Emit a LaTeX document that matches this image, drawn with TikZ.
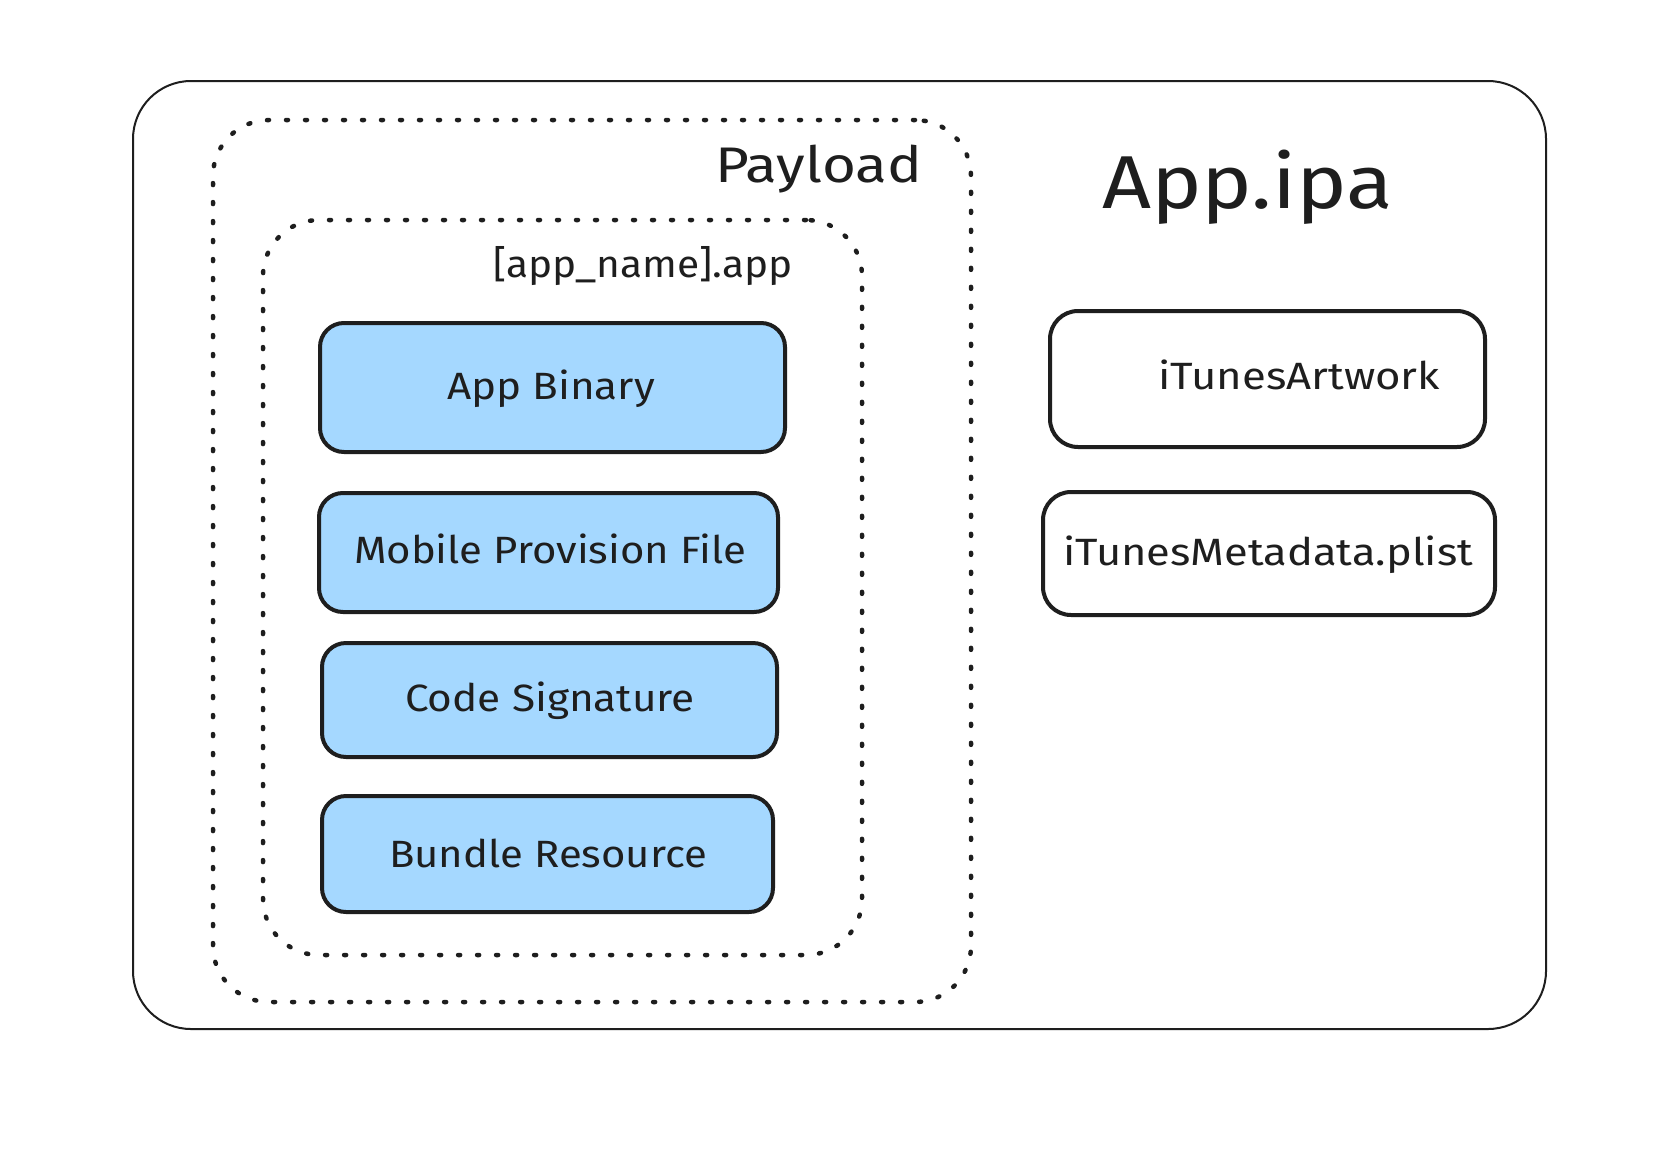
\documentclass[tikz,border=0pt]{standalone}
\usepackage{fontspec}
\setmainfont{Fira Sans}
\usepackage{graphicx}
\definecolor{ink}{HTML}{1E1E1E}
\definecolor{fillblue}{HTML}{A5D8FF}
\newcommand{\fitw}[2]{\resizebox{#1pt}{\height}{#2}}
\begin{document}
\begin{tikzpicture}[x=1pt,y=-1pt,
  anybox/.style={inner sep=0pt, outer sep=0pt},
  outerbox/.style={anybox, draw=ink, line width=2pt, rounded corners=58pt},
  dotbox/.style={anybox, draw=ink, line width=4.5pt, line cap=round, dash pattern=on 2pt off 17pt, rounded corners=56pt},
  bluebox/.style={anybox, draw=ink, fill=fillblue, line width=4pt, rounded corners=24pt},
  whitebox/.style={anybox, draw=ink, fill=white, line width=4pt, rounded corners=28pt},
  lbl/.style={text=ink, inner sep=0pt, anchor=base, font=\fontsize{38}{40}\selectfont},
]
\fill[white] (0,0) rectangle (1670,1154);
\useasboundingbox (0,0) rectangle (1670,1154);

% containers
\node[outerbox, minimum width=1413pt, minimum height=948pt] (outer) at (839.5,555) {};
\node[dotbox, minimum width=758pt, minimum height=882pt] (payload) at (592,561) {};
\node[dotbox, minimum width=599pt, minimum height=735pt] (appdir) at (562.5,587.5) {};

% blue boxes
\node[bluebox, minimum width=465pt, minimum height=129pt] (bin) at (552.5,387.5) {};
\node[bluebox, minimum width=459pt, minimum height=119pt] (mob) at (548.5,552.5) {};
\node[bluebox, minimum width=455pt, minimum height=114pt] (code) at (549.5,700) {};
\node[bluebox, minimum width=451pt, minimum height=116pt] (bun) at (547.5,854) {};

% white boxes
\node[whitebox, minimum width=435pt, minimum height=136pt] (art) at (1267.5,379) {};
\node[whitebox, minimum width=452pt, minimum height=123pt] (meta) at (1269,553.5) {};

% labels
\node[lbl, font=\fontsize{75}{80}\selectfont] (tIpa) at (1247.5,208) {\fitw{291}{App.ipa}};
\node[lbl, font=\fontsize{50}{55}\selectfont] (tPay) at (818.5,182) {\fitw{207}{Payload}};
\node[lbl] (tApp) at (643,277) {\fitw{300}{[app\_name].app}};
\node[lbl] (tBin) at (551,399) {\fitw{208}{App Binary}};
\node[lbl] (tMob) at (550,563) {\fitw{392}{Mobile Provision File}};
\node[lbl] (tCode) at (550,711) {\fitw{290}{Code Signature}};
\node[lbl] (tBun) at (548,867) {\fitw{318}{Bundle Resource}};
\node[lbl] (tArt) at (1299,389) {\fitw{282}{iTunesArtwork}};
\node[lbl] (tMeta) at (1268,565) {\fitw{410}{iTunesMetadata.plist}};
\end{tikzpicture}
\end{document}
